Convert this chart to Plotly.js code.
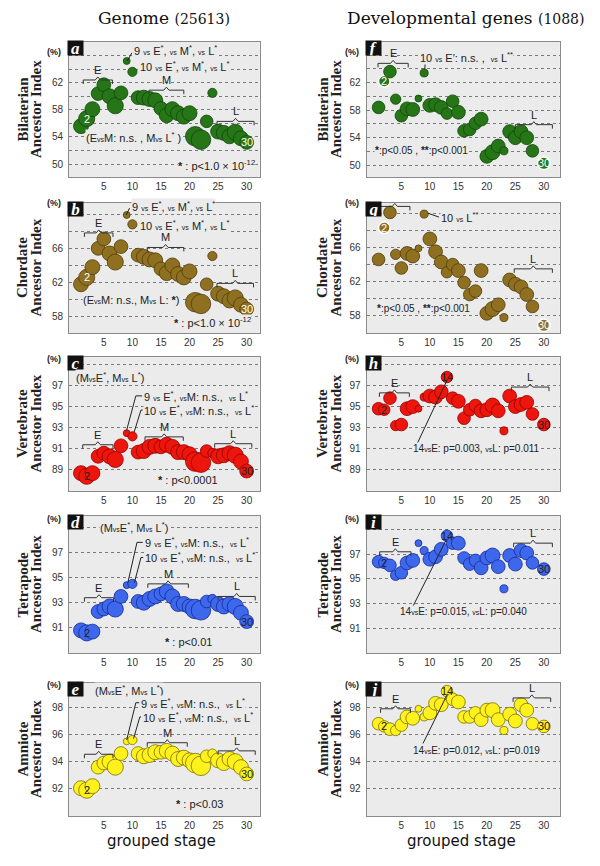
<!DOCTYPE html>
<html>
<head>
<meta charset="utf-8">
<script src="https://cdn.plot.ly/plotly-3.0.1.min.js"></script>
<style>html,body{margin:0;padding:0;background:#fff}</style>
</head>
<body>
<div id="chart" style="width:600px;height:866px"></div>
<script>
// grouped stages (genome panels have all 30, developmental panels skip 29)
var genomeStages = [1,2,3,4,5,6,7,8,9,10,11,12,13,14,15,16,17,18,19,20,21,22,23,24,25,26,27,28,29,30];
var devStages = [1,2,3,4,5,6,7,8,9,10,11,12,13,14,15,16,17,18,19,20,21,22,23,24,25,26,27,28,30];

// ancestor index (%) - whole genome
var bilaterianGenome = [55.6,56.7,58.1,60.4,61.7,60.0,58.6,60.5,65.2,63.6,59.8,59.8,59.6,59.4,58.2,57.2,58.1,57.5,57.0,57.5,54.1,53.6,56.3,60.5,54.8,54.6,54.1,54.7,53.8,53.2];
var chordateGenome   = [61.8,62.6,63.8,66.0,67.1,65.4,64.4,66.2,69.9,68.8,65.2,65.0,64.7,64.6,63.6,63.1,64.0,63.0,62.6,63.3,59.7,59.5,61.8,65.1,60.7,60.4,59.9,60.2,59.4,58.9];
var vertebrateGenome = [88.7,88.4,88.7,90.3,90.6,90.3,90.0,91.3,92.5,92.2,90.7,90.8,91.2,91.3,91.2,91.4,91.2,90.7,90.7,90.5,89.8,89.7,90.8,90.6,90.3,90.4,90.6,90.4,89.8,88.9];
var tetrapodGenome   = [90.8,90.6,90.7,92.3,92.5,92.7,92.5,93.5,94.4,94.5,93.1,93.0,93.3,93.5,93.7,93.9,93.5,92.9,92.9,92.7,92.5,92.4,93.1,93.3,92.9,92.7,92.9,92.7,92.2,91.5];
var amnioteGenome    = [92.05,91.9,92.2,93.6,93.9,94.0,93.6,94.6,95.5,95.6,94.6,94.4,94.5,94.7,94.7,94.8,94.6,94.2,94.3,94.1,93.9,93.7,94.4,94.6,94.1,93.9,94.2,94.0,93.6,93.1];

// ancestor index (%) - developmental genes
var bilaterianDev = [58.4,62.2,63.6,59.6,57.2,58.2,58.1,59.7,63.4,58.7,58.8,58.4,57.5,59.3,57.7,55.0,55.2,56.1,56.7,51.3,51.9,52.8,52.1,54.9,54.0,54.9,54.0,52.1,50.3];
var chordateDev   = [64.6,68.3,70.1,65.2,63.6,65.3,65.0,65.9,69.9,67.0,65.5,64.3,63.1,64.0,63.3,61.9,60.5,60.9,63.3,58.3,58.8,59.3,57.8,62.2,61.7,61.4,60.5,59.1,56.9];
var vertebrateDev = [94.8,94.7,95.8,93.2,93.3,94.8,95.0,94.8,95.9,96.0,95.9,96.4,97.8,95.8,95.5,93.9,94.7,95.1,94.6,94.7,95.1,94.6,92.7,96.0,95.0,95.2,95.4,94.3,93.3];
var tetrapodDev   = [96.4,96.3,96.1,95.3,95.5,96.3,96.5,97.9,97.3,96.6,96.8,97.4,98.5,97.9,97.9,96.7,96.2,96.5,95.9,96.7,96.9,96.0,94.2,96.9,96.2,97.3,97.1,96.3,95.8];
var amnioteDev    = [96.8,96.6,96.4,96.3,96.7,97.3,97.2,97.9,97.3,97.6,98.3,98.2,99.2,98.6,98.4,97.3,97.3,97.6,97.1,97.8,97.8,97.1,96.3,97.5,97.0,98.2,97.8,96.8,96.6];

// bubble sizes
var genomeSizes = [13,14,13,12,12,13,14,12,6,8,12,13,13,13,12,13,13,13,13,13,17,17,11,8,13,13,13,14,13,12];
var devSizes    = [11,10,11,9,11,12,12,6,7,12,12,12,10,11,12,11,11,11,12,12,13,12,7,12,12,12,12,11,11];

var xTicks = [5,10,15,20,25,30];

var GREEN = ['rgb(38,118,24)','rgb(18,70,10)'];
var BROWN = ['rgb(142,112,32)','rgb(80,60,12)'];
var RED = ['rgb(236,22,12)','rgb(150,0,0)'];
var BLUE = ['rgb(62,104,236)','rgb(20,40,150)'];
var YELLOW = ['rgb(255,241,28)','rgb(120,110,0)'];

var VS = '<span style="font-size:7px">vs</span>';
var S = '<sup>*</sup>';
var t9all = '9 ' + VS + ' E' + S + ', ' + VS + ' M' + S + ', ' + VS + ' L' + S;
var t10all = '10 ' + VS + ' E' + S + ', ' + VS + ' M' + S + ', ' + VS + ' L' + S;
var t9ns = '9 ' + VS + ' E' + S + ', ' + VS + 'M: n.s., &nbsp;' + VS + ' L' + S;
var t10ns = '10 ' + VS + ' E' + S + ', ' + VS + 'M: n.s., &nbsp;' + VS + ' L' + S;
var tHead = '(M' + VS + 'E' + S + ', M' + VS + ' L' + S + ')';
var pDev = '<b>*</b>:p&lt;0.05 , <b>**</b>:p&lt;0.001';

var colX = [[0.115, 0.433], [0.611, 0.933]];
var rowPx = [[42, 177], [203, 333], [357, 491], [516, 653], [683, 816]];
var pctOff = [10, 0, 2, 3, 2];
var PLOTBG = '#ebebeb';

var panels = [
  {id: 'a', col: 0, row: 0, xs: genomeStages, ys: bilaterianGenome, sz: genomeSizes, c: GREEN,
   yr: [48.1, 68], grid: [50,52,54,56,58,60,62,64,66], lab: [50,54,58,62],
   title: ['Bilaterian', 'Ancestor Index'], lc: '#fff', pts: [[1,'2'],[29,'30']],
   br: [[1.4,6.5,62.4,'E'],[12.9,19.0,60.9,'M'],[24.8,31.3,56.3,'L']],
   notes: [[10.1,66.8,t9all,'left'],[11.1,64.4,t10all,'left'],
           [10.2,54.0,'(E' + VS + 'M: n.s. , M' + VS + ' L' + S + ' )'],
           [24.8,49.9,'<b>*</b> : p&lt;1.0 × 10<sup>-12</sup>']],
   lead: [[[9.1,65.2],[9.9,66.4]]]},
  {id: 'b', col: 0, row: 1, xs: genomeStages, ys: chordateGenome, sz: genomeSizes, c: BROWN,
   yr: [56.1, 71.3], grid: [58,60,62,64,66,68,70], lab: [58,62,66],
   title: ['Chordate', 'Ancestor Index'], lc: '#fff', pts: [[1,'2'],[29,'30']],
   br: [[1.6,6.6,67.8,'E'],[12.6,19.0,66.1,'M'],[24.8,31.2,61.9,'L']],
   notes: [[9.7,71.0,t9all,'left'],[11.2,68.7,t10all,'left'],
           [9.9,60.0,'(E' + VS + 'M: n.s., M' + VS + ' L: <b>*</b>)'],
           [24.1,57.4,'<b>*</b> : p&lt;1.0 × 10<sup>-12</sup>']],
   lead: [[[8.9,69.9],[9.5,70.7]]]},
  {id: 'c', col: 0, row: 2, xs: genomeStages, ys: vertebrateGenome, sz: genomeSizes, c: RED,
   yr: [87.0, 99.75], grid: [89,91,93,95,97,99], lab: [89,91,93,95,97],
   title: ['Vertebrate', 'Ancestor Index'], lc: '#222', pts: [[1,'2'],[29,'30']],
   br: [[1.3,6.6,91.4,'E'],[12.2,18.9,92.15,'M'],[24.4,30.9,91.5,'L']],
   notes: [[0.0,97.85,tHead,'left'],[11.9,96.05,t9ns,'left'],[11.9,94.7,t10ns,'left'],
           [19.65,88.0,'<b>*</b> : p&lt;0.0001']],
   lead: [[[9.0,92.8],[10.6,96.05],[11.7,96.05]],[[10.3,92.6],[11.5,94.7],[11.8,94.7]]]},
  {id: 'd', col: 0, row: 3, xs: genomeStages, ys: tetrapodGenome, sz: genomeSizes, c: BLUE,
   yr: [89.0, 99.9], grid: [91,93,95,97,99], lab: [91,93,95,97],
   title: ['Tetrapode', 'Ancestor Index'], lc: '#222', pts: [[1,'2'],[29,'30']],
   br: [[1.6,6.7,93.4,'E'],[12.7,19.8,94.5,'M'],[25.0,31.5,93.5,'L']],
   notes: [[4.2,99.0,tHead,'left'],[12.0,97.8,t9ns,'left'],[12.0,96.6,t10ns,'left'],
           [19.8,89.85,'<b>*</b> : p&lt;0.01']],
   lead: [[[9.2,94.6],[10.8,97.8],[11.8,97.8]],[[10.35,94.6],[11.5,96.6],[11.9,96.6]]]},
  {id: 'e', col: 0, row: 4, xs: genomeStages, ys: amnioteGenome, sz: genomeSizes, c: YELLOW,
   yr: [90.0, 99.8], grid: [92,94,96,98], lab: [92,94,96,98],
   title: ['Amniote', 'Ancestor Index'], lc: '#222', pts: [[1,'2'],[29,'30']],
   br: [[1.6,6.6,94.55,'E'],[12.6,19.6,95.4,'M'],[25.0,31.5,94.8,'L']],
   notes: [[3.3,99.25,tHead,'left'],[11.3,98.35,t9ns,'left'],[11.6,97.3,t10ns,'left'],
           [21.8,90.9,'<b>*</b> : p&lt;0.03']],
   lead: [[[9.0,95.6],[10.6,98.35],[11.2,98.35]],[[10.2,95.7],[11.3,97.3],[11.5,97.3]]]},
  {id: 'f', col: 1, row: 0, xs: devStages, ys: bilaterianDev, sz: devSizes, c: GREEN, ring: true,
   yr: [48.3, 67.9], grid: [50,52,54,56,58,60,62,64,66], lab: [50,54,58,62],
   title: ['Bilaterian', 'Ancestor Index'], lc: '#fff', pts: [[1,'2'],[28,'30']],
   br: [[0.9,6.2,64.8,'E'],[25.0,31.5,55.9,'L']],
   notes: [[8.1,65.65,'10 ' + VS + ' E\u2032: n.s. , &nbsp;' + VS + ' L<sup>**</sup>','left'],
           [8.5,52.1,pDev]],
   lead: [[[9.1,63.9],[9.2,65.0]]]},
  {id: 'g', col: 1, row: 1, xs: devStages, ys: chordateDev, sz: devSizes, c: BROWN, ring: true,
   yr: [56.0, 71.2], grid: [58,60,62,64,66,68,70], lab: [58,62,66],
   title: ['Chordate', 'Ancestor Index'], lc: '#fff', pts: [[1,'2'],[28,'30']],
   br: [[1.2,6.5,70.8,'E'],[24.8,31.5,63.5,'L']],
   notes: [[11.8,69.55,'10 ' + VS + ' L<sup>**</sup>','left'],[8.8,58.9,pDev]],
   lead: [[[9.7,70.0],[11.6,69.55]]]},
  {id: 'h', col: 1, row: 2, xs: devStages, ys: vertebrateDev, sz: devSizes, c: RED,
   yr: [87.0, 99.7], grid: [89,91,93,95,97,99], lab: [89,91,93,95,97],
   title: ['Vertebrate', 'Ancestor Index'], lc: '#222', pts: [[1,'2'],[28,'30'],[12,'14']],
   br: [[1.15,6.4,96.3,'E'],[24.3,30.9,96.85,'L']],
   notes: [[18.1,91.05,'14' + VS + 'E: p=0.003, ' + VS + 'L: p=0.011']],
   lead: [[[13.1,97.6],[7.7,91.4]]]},
  {id: 'i', col: 1, row: 3, xs: devStages, ys: tetrapodDev, sz: devSizes, c: BLUE,
   yr: [89.0, 100.1], grid: [91,93,95,97,99], lab: [91,93,95,97],
   title: ['Tetrapode', 'Ancestor Index'], lc: '#222', pts: [[1,'2'],[28,'30'],[12,'14']],
   br: [[1.2,6.7,97.2,'E'],[24.7,31.5,97.9,'L']],
   notes: [[15.9,92.4,'14' + VS + 'E: p=0.015, ' + VS + 'L: p=0.040']],
   lead: [[[12.9,98.2],[7.0,92.75]]]},
  {id: 'j', col: 1, row: 4, xs: devStages, ys: amnioteDev, sz: devSizes, c: YELLOW,
   yr: [90.0, 99.8], grid: [92,94,96,98], lab: [92,94,96,98],
   title: ['Amniote', 'Ancestor Index'], lc: '#222', pts: [[1,'2'],[28,'30'],[12,'14']],
   br: [[1.35,6.6,97.9,'E'],[24.6,31.2,98.7,'L']],
   notes: [[18.1,94.85,'14' + VS + 'E: p=0.012, ' + VS + 'L: p=0.019']],
   lead: [[[13.1,99.0],[8.8,95.35]]]}
];

var SANS = 'Liberation Sans, Arial, sans-serif';
var SERIF = 'Liberation Serif, Times New Roman, serif';
var data = [];
var layout = {
  width: 600, height: 866,
  margin: {l: 0, r: 0, t: 0, b: 0},
  paper_bgcolor: '#fff', plot_bgcolor: PLOTBG,
  showlegend: false, hovermode: false,
  annotations: [], shapes: []
};

function py(px) { return 1 - px / 866; }

// paper-anchored text, always centred on its point
function paperText(xpx, ypx, text, font, extra) {
  var a = {xref: 'paper', yref: 'paper', x: xpx / 600, y: py(ypx), xanchor: 'center', yanchor: 'middle',
           text: text, showarrow: false, font: font};
  for (var k in extra) a[k] = extra[k];
  return a;
}

panels.forEach(function (p, k) {
  var n = k + 1, sfx = n === 1 ? '' : String(n);
  var xr = 'x' + sfx, yr = 'y' + sfx;
  var top = rowPx[p.row][0], bot = rowPx[p.row][1];
  var dx = colX[p.col];
  var pxu = (bot - top) / (p.yr[1] - p.yr[0]);

  // labelled bubbles get a white ring in f and g
  var edge = p.c[1], edgeW = 0.8;
  if (p.ring) {
    var marked = p.pts.map(function (q) { return q[0]; });
    edge = p.xs.map(function (_, i) { return marked.indexOf(i) >= 0 ? '#fff' : p.c[1]; });
    edgeW = p.xs.map(function (_, i) { return marked.indexOf(i) >= 0 ? 1.5 : 0.8; });
  }

  data.push({
    type: 'scatter', mode: 'markers', x: p.xs, y: p.ys, xaxis: xr, yaxis: yr,
    marker: {size: p.sz, sizeref: 0.87, color: p.c[0], opacity: 1, line: {color: edge, width: edgeW}}
  });

  layout['xaxis' + sfx] = {
    domain: dx, anchor: yr, range: p.col === 0 ? [-1.1, 32.3] : [-1.1, 32.8],
    tickmode: 'array', tickvals: xTicks, ticks: '', showgrid: false, zeroline: false,
    showline: true, mirror: true, linecolor: '#8a8a8a', linewidth: 1,
    tickfont: {family: SANS, size: 10, color: '#333'}, fixedrange: true
  };
  layout['yaxis' + sfx] = {
    domain: [py(bot), py(top)], anchor: xr, range: p.yr,
    tickmode: 'array', tickvals: p.lab,
    ticks: '', showgrid: true, gridcolor: '#7a7a7a', griddash: 'dot', gridwidth: 1,
    minor: {tickmode: 'array', tickvals: p.grid, ticks: '', showgrid: true,
            gridcolor: '#7a7a7a', griddash: 'dot', gridwidth: 1},
    zeroline: false, showline: true, mirror: true, linecolor: '#8a8a8a', linewidth: 1,
    tickfont: {family: SANS, size: 10, color: '#333'}, ticklabelstandoff: 3, fixedrange: true
  };

  // panel letter and unit
  layout.annotations.push({
    xref: 'paper', yref: 'paper', x: dx[0] - 0.003, y: py(top - 2), xanchor: 'left', yanchor: 'top',
    text: '<b><i>' + p.id + '</i></b>', showarrow: false, bgcolor: '#111', width: 15, height: 14,
    borderpad: 0, font: {family: SERIF, size: 17, color: '#fff'}
  });
  layout.annotations.push(paperText(dx[0] * 600 - 15, top + pctOff[p.row], '<b>(%)</b>',
    {family: SANS, size: 9, color: '#222'}));

  // two-line axis title
  var cx = p.col === 0 ? 22 : 322;
  p.title.forEach(function (line, li) {
    layout.annotations.push(paperText(cx + li * 13.5, (top + bot) / 2, '<b>' + line + '</b>',
      {family: SERIF, size: 15, color: '#222'}, {textangle: -90}));
  });

  // stage brackets
  p.br.forEach(function (b) {
    var x0 = b[0], x1 = b[1], y = b[2], xc = (x0 + x1) / 2;
    var d = 4 / pxu, h = 3 / pxu, w = 0.45;
    layout.shapes.push({
      type: 'path', xref: xr, yref: yr, line: {color: '#333', width: 1},
      path: 'M' + x0 + ',' + (y - d) + ' L' + x0 + ',' + y + ' L' + (xc - w) + ',' + y +
            ' L' + xc + ',' + (y + h) + ' L' + (xc + w) + ',' + y + ' L' + x1 + ',' + y +
            ' L' + x1 + ',' + (y - d)
    });
    layout.annotations.push({
      xref: xr, yref: yr, x: xc, y: y + 10 / pxu, text: b[3], showarrow: false,
      xanchor: 'center', yanchor: 'middle', font: {family: SANS, size: 11, color: '#222'}
    });
  });

  // leader lines
  p.lead.forEach(function (pts) {
    layout.shapes.push({
      type: 'path', xref: xr, yref: yr, line: {color: '#222', width: 1},
      path: pts.map(function (q, i) { return (i ? 'L' : 'M') + q[0] + ',' + q[1]; }).join(' ')
    });
  });

  // statistics notes
  p.notes.forEach(function (t) {
    layout.annotations.push({
      xref: xr, yref: yr, x: t[0], y: t[1], text: t[2], xanchor: t[3] || 'center', yanchor: 'middle',
      showarrow: false, bgcolor: PLOTBG, borderpad: 0,
      font: {family: SANS, size: p.col === 1 && !t[3] ? 10 : 11, color: '#222'}
    });
  });

  // stage numbers on bubbles
  p.pts.forEach(function (q) {
    layout.annotations.push({
      xref: xr, yref: yr, x: p.xs[q[0]], y: p.ys[q[0]], text: q[1], showarrow: false,
      xanchor: 'center', yanchor: 'middle', font: {family: SANS, size: 11, color: p.lc}
    });
  });
});

// column headers and x labels
var HEAD = {family: 'DejaVu Serif, serif', size: 17, color: '#111'};
var XLAB = {family: 'DejaVu Sans, sans-serif', size: 15, color: '#111'};
layout.annotations.push(
  paperText(164, 18, 'Genome <span style="font-size:14px">(25613)</span>', HEAD),
  paperText(466, 18, 'Developmental genes <span style="font-size:14px">(1088)</span>', HEAD),
  paperText(161, 841, 'grouped stage', XLAB),
  paperText(461, 841, 'grouped stage', XLAB)
);

Plotly.newPlot('chart', data, layout, {staticPlot: true});
</script>
</body>
</html>
